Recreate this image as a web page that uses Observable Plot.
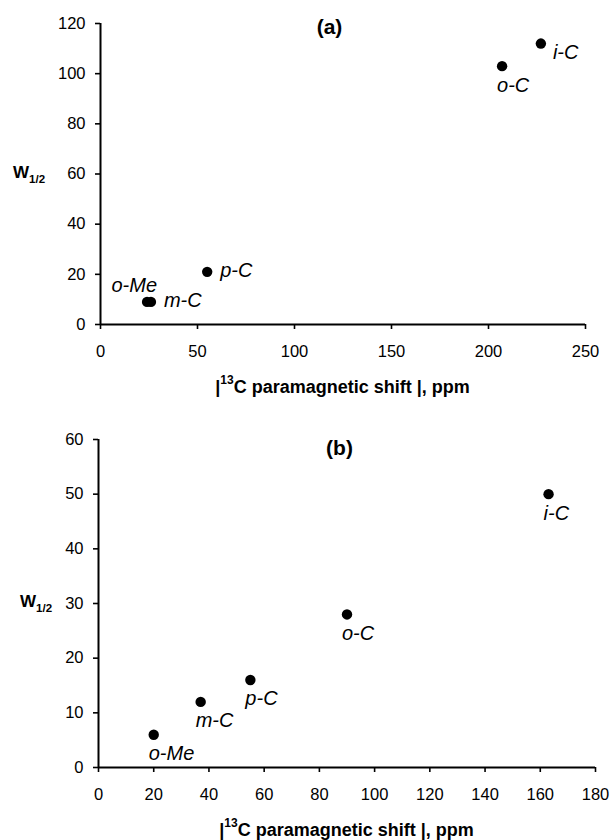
<!DOCTYPE html>
<html><head><meta charset="utf-8">
<script src="https://cdn.jsdelivr.net/npm/d3@7"></script>
<script src="https://cdn.jsdelivr.net/npm/@observablehq/plot@0.6"></script>
<style>
body{margin:0;background:#fff;}
#a,#b{width:611px;height:420px;overflow:hidden;}
svg{display:block;}
</style></head><body><div id="a"></div><div id="b"></div>
<script>
// Panel (a)
const titleA = "(a)";
const labelsA = ["i-C", "o-C", "p-C", "m-C", "o-Me"];
const shiftA = [227, 207, 55, 26, 24];
const widthA = [112, 103, 21, 9, 9];
const placeA = ["right-low", "below", "right", "right", "above-left"];
const xTicksA = [0, 50, 100, 150, 200, 250];
const yTicksA = [0, 20, 40, 60, 80, 100, 120];

// Panel (b)
const titleB = "(b)";
const labelsB = ["i-C", "o-C", "p-C", "m-C", "o-Me"];
const shiftB = [163, 90, 55, 37, 20];
const widthB = [50, 28, 16, 12, 6];
const placeB = ["below", "below", "below", "below", "below"];
const xTicksB = [0, 20, 40, 60, 80, 100, 120, 140, 160, 180];
const yTicksB = [0, 10, 20, 30, 40, 50, 60];

const xLabelPre = "|";
const xLabelSup = "13";
const xLabelPost = "C paramagnetic shift |, ppm";
const yLabelMain = "W";
const yLabelSub = "1/2";

const FONT = "'Liberation Sans', Arial, Helvetica, sans-serif";

const placements = {
  "right":      {textAnchor: "start", dx: 13, dy: -1},
  "right-low":  {textAnchor: "start", dx: 12, dy: 9},
  "below":      {textAnchor: "start", dx: -5, dy: 19},
  "above-left": {textAnchor: "end",   dx: 10, dy: -16}
};

function panel(el, cfg) {
  const data = cfg.labels.map((l, i) => ({label: l, x: cfg.xs[i], y: cfg.ys[i], place: cfg.place[i]}));
  const textMarks = Object.entries(placements).map(([k, p]) =>
    Plot.text(data.filter(d => d.place === k), {
      x: "x", y: "y", text: "label", textAnchor: p.textAnchor, dx: p.dx, dy: p.dy,
      fontStyle: "italic", fontSize: 20, fill: "#000"
    })
  );
  const chart = Plot.plot({
    width: 611, height: 420,
    marginLeft: cfg.m[0], marginRight: cfg.m[1], marginTop: cfg.m[2], marginBottom: cfg.m[3],
    style: {fontFamily: FONT, fontSize: "16px", color: "#000", background: "#fff", overflow: "visible"},
    x: {domain: [cfg.xTicks[0], cfg.xTicks[cfg.xTicks.length - 1]]},
    y: {domain: [cfg.yTicks[0], cfg.yTicks[cfg.yTicks.length - 1]]},
    marks: [
      Plot.axisX({ticks: cfg.xTicks, tickSize: 5, tickPadding: 16, label: null, strokeWidth: 1.6, fontSize: 16.5, fill: "#000"}),
      Plot.axisY({ticks: cfg.yTicks, tickSize: 5, tickPadding: 10, label: null, strokeWidth: 1.6, fontSize: 16.5, fill: "#000"}),
      Plot.ruleY([cfg.yTicks[0]], {strokeWidth: 2, stroke: "#000"}),
      Plot.ruleX([cfg.xTicks[0]], {strokeWidth: 2, stroke: "#000"}),
      Plot.dot(data, {x: "x", y: "y", r: 5.2, fill: "#000", stroke: null}),
      ...textMarks,
      Plot.text([cfg.title], {frameAnchor: "top", dx: cfg.titleOff[0], dy: cfg.titleOff[1], lineAnchor: "middle",
        fontWeight: "bold", fontSize: 21, fill: "#000"})
    ]
  });
  const svg = d3.select(chart);
  const xs = chart.scale("x"), ys = chart.scale("y");
  const cx = (xs.range[0] + xs.range[1]) / 2;
  // x axis title
  const t = svg.append("text").attr("x", cx).attr("y", cfg.xLabelY)
    .attr("text-anchor", "middle").attr("font-weight", "bold").attr("font-size", 18).attr("fill", "#000");
  t.append("tspan").text(xLabelPre);
  t.append("tspan").attr("font-size", 12).attr("dy", -9).text(xLabelSup);
  t.append("tspan").attr("dy", 9).text(xLabelPost);
  // y axis title
  const w = svg.append("text").attr("x", cfg.yLabelX).attr("y", ys.apply(cfg.yLabelAt) + 4)
    .attr("text-anchor", "start").attr("font-weight", "bold").attr("font-size", 17).attr("fill", "#000");
  w.append("tspan").text(yLabelMain);
  w.append("tspan").attr("font-size", 11.5).attr("dy", 5).text(yLabelSub);
  document.getElementById(el).appendChild(chart);
}

panel("a", {
  labels: labelsA, xs: shiftA, ys: widthA, place: placeA, xTicks: xTicksA, yTicks: yTicksA,
  title: titleA, m: [100, 26, 23, 96], titleOff: [-13.5, 4], xLabelY: 393, yLabelX: 13, yLabelAt: 60
});
panel("b", {
  labels: labelsB, xs: shiftB, ys: widthB, place: placeB, xTicks: xTicksB, yTicks: yTicksB,
  title: titleB, m: [98, 16, 19, 73], titleOff: [-7.5, 9], xLabelY: 416, yLabelX: 20, yLabelAt: 30
});
</script></body></html>
